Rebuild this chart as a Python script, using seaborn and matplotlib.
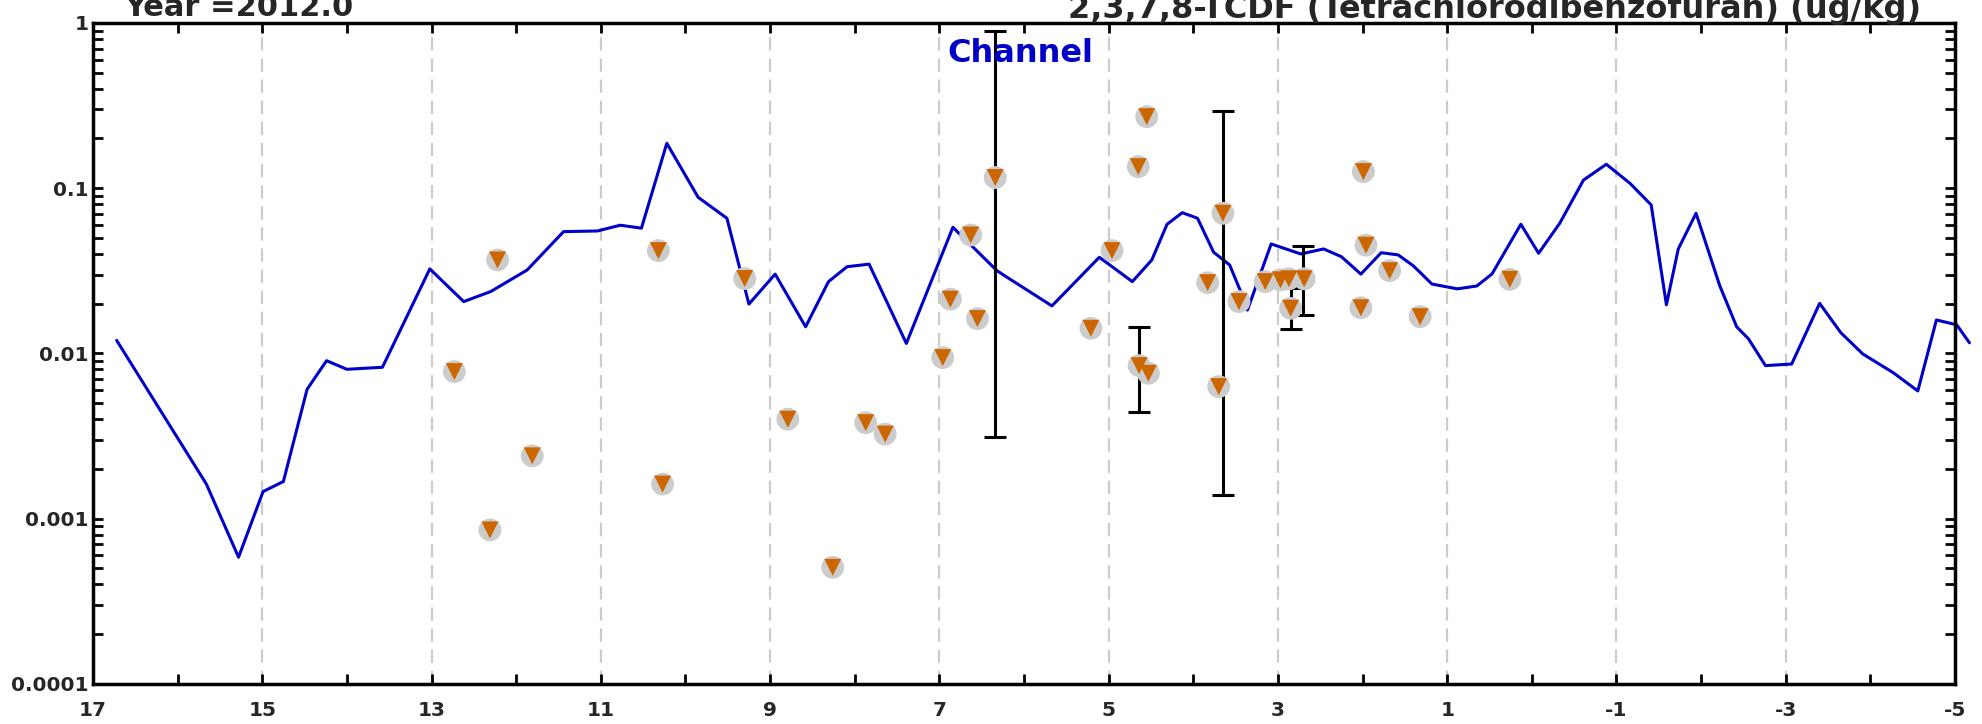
import numpy as np
import pandas as pd
import matplotlib
matplotlib.use("Agg")
import matplotlib.pyplot as plt
import seaborn as sns
from matplotlib.ticker import FixedLocator, FuncFormatter, LogLocator, NullFormatter

# modelled channel concentration (blue line)
line_x = [16.72, 15.66, 15.28, 14.99, 14.75, 14.47, 14.24, 14.00, 13.58, 13.02,
          12.62, 12.30, 11.87, 11.44, 11.04, 10.77, 10.52, 10.22, 9.85, 9.51,
          9.25, 8.94, 8.58, 8.31, 8.09, 7.83, 7.39, 6.84, 6.32, 6.20,
          5.67, 5.11, 4.72, 4.49, 4.31, 4.13, 3.95, 3.76, 3.57, 3.44,
          3.36, 3.08, 2.73, 2.46, 2.25, 2.02, 1.78, 1.58, 1.40, 1.18,
          0.88, 0.65, 0.47, 0.13, -0.08, -0.33, -0.61, -0.88, -1.16, -1.41,
          -1.59, -1.73, -1.94, -2.22, -2.42, -2.56, -2.76, -3.07, -3.40, -3.65,
          -3.91, -4.27, -4.56, -4.78, -5.02, -5.17]
line_y = [0.0120, 0.00162, 0.000585, 0.00146, 0.00168, 0.00607, 0.00904, 0.00802, 0.00825, 0.0325,
          0.0206, 0.0237, 0.032, 0.0546, 0.0551, 0.0597, 0.0573, 0.187, 0.0881, 0.0658,
          0.0199, 0.0302, 0.0145, 0.0272, 0.0335, 0.0347, 0.0115, 0.058, 0.0317, 0.0289,
          0.0194, 0.0382, 0.0272, 0.0368, 0.0605, 0.0711, 0.0658, 0.041, 0.0343, 0.0237,
          0.0183, 0.046, 0.040, 0.0429, 0.0385, 0.0302, 0.0407, 0.0395, 0.0339, 0.0263,
          0.0246, 0.0256, 0.0303, 0.0605, 0.0404, 0.0614, 0.112, 0.1396, 0.107, 0.0792,
          0.0197, 0.0429, 0.0705, 0.0257, 0.0145, 0.01225, 0.00844, 0.00863, 0.0201, 0.01336,
          0.00993, 0.00765, 0.00593, 0.01595, 0.0149, 0.0116]

# observed samples (grey circle + orange triangle)
obs_x = [12.73, 12.31, 12.22, 11.81, 10.32, 10.27, 9.30, 8.79, 8.26, 7.87,
         7.64, 6.96, 6.87, 6.63, 6.55, 6.34, 5.21, 4.96, 4.65, 4.55,
         4.64, 4.53, 3.83, 3.65, 3.70, 3.46, 3.15, 2.97, 2.87, 2.69,
         2.85, 1.99, 1.96, 2.02, 1.68, 1.32, 0.26]
obs_y = [0.00776, 0.000855, 0.0368, 0.0024, 0.0419, 0.00162, 0.0284, 0.0040, 0.000508, 0.00381,
         0.00325, 0.00944, 0.0213, 0.0521, 0.01625, 0.116, 0.0142, 0.0419, 0.135, 0.271,
         0.00844, 0.00759, 0.0268, 0.0705, 0.0063, 0.0206, 0.0272, 0.0279, 0.0283, 0.0283,
         0.01876, 0.126, 0.0452, 0.0189, 0.0317, 0.0167, 0.0281]

# ranges shown as error bars
err_x = [6.34, 4.64, 3.65, 2.84, 2.70]
err_mid = [0.116, 0.00844, 0.0705, 0.01876, 0.0283]
err_lo = [0.00314, 0.00444, 0.00139, 0.0140, 0.0170]
err_hi = [0.90, 0.0144, 0.295, 0.0248, 0.0449]

x_labels = [17, 15, 13, 11, 9, 7, 5, 3, 1, -1, -3, -5]
grid_x = [15, 13, 11, 9, 7, 5, 3, 1, -1, -3]

sns.set_theme(style="white")
plt.rcParams['font.family'] = ['DejaVu Sans']
plt.rcParams['font.weight'] = 'bold'
plt.rcParams['axes.unicode_minus'] = False

line_df = pd.DataFrame({"x": line_x, "y": line_y})
obs_df = pd.DataFrame({"x": obs_x, "y": obs_y})

fig = plt.figure(figsize=(19.82, 7.24), dpi=100)
ax = fig.add_axes([0.0469, 0.0553, 0.9395, 0.9130])
ax.set_yscale("log")

for gx in grid_x:
    ax.axvline(gx, color="#cccccc", lw=1.6, ls=(0, (6, 3.5)), zorder=0)

sns.lineplot(data=line_df, x="x", y="y", sort=False, estimator=None, ax=ax,
             color="#0000c8", lw=2.2, zorder=2, clip_on=False)

ax.errorbar(err_x, err_mid,
            yerr=[np.array(err_mid) - np.array(err_lo), np.array(err_hi) - np.array(err_mid)],
            fmt="none", ecolor="black", elinewidth=2.2, capsize=8, capthick=2.2, zorder=3)

sns.scatterplot(data=obs_df, x="x", y="y", ax=ax, marker="o", s=270,
                color="#cccccc", edgecolor="none", zorder=4)
sns.scatterplot(data=obs_df, x="x", y="y", ax=ax, marker="v", s=150,
                color="#cc6600", edgecolor="none", zorder=5)

ax.set_xlim(17, -5)
ax.set_ylim(1e-4, 1)
ax.set_xlabel("")
ax.set_ylabel("")

ax.xaxis.set_major_locator(FixedLocator(x_labels))
ax.xaxis.set_major_formatter(FuncFormatter(lambda v, p: "%d" % round(v)))
ax.xaxis.set_minor_locator(FixedLocator(range(-4, 17, 2)))
ax.xaxis.set_minor_formatter(NullFormatter())
ax.yaxis.set_major_locator(LogLocator(base=10, numticks=10))
ax.yaxis.set_minor_locator(LogLocator(base=10, subs=np.arange(2, 10), numticks=20))
ax.yaxis.set_major_formatter(FuncFormatter(lambda v, p: "%g" % v))
ax.yaxis.set_minor_formatter(NullFormatter())

ax.tick_params(axis="both", which="both", direction="in", length=7, width=2,
               color="black", top=True, right=True, bottom=True, left=True)
ax.tick_params(axis="x", which="major", labelsize=14.5, pad=12)
ax.tick_params(axis="y", which="major", labelsize=14.5, pad=3)
for lab in ax.get_xticklabels() + ax.get_yticklabels():
    lab.set_fontweight("bold")

for sp in ax.spines.values():
    sp.set_color("black")
    sp.set_linewidth(2.5)

ax.text(6.90, 0.58, "Channel", color="#0000c8", fontsize=23, fontweight="bold",
        ha="left", va="baseline")

fig.text(124 / 1982, 1 - 16 / 724, "Year =2012.0", fontsize=22, fontweight="bold",
         ha="left", va="baseline")
fig.text(1921 / 1982, 1 - 18 / 724, "2,3,7,8-TCDF (Tetrachlorodibenzofuran) (ug/kg)",
         fontsize=23, fontweight="bold", ha="right", va="baseline")

plt.savefig("out.png", dpi=100)
plt.close()
